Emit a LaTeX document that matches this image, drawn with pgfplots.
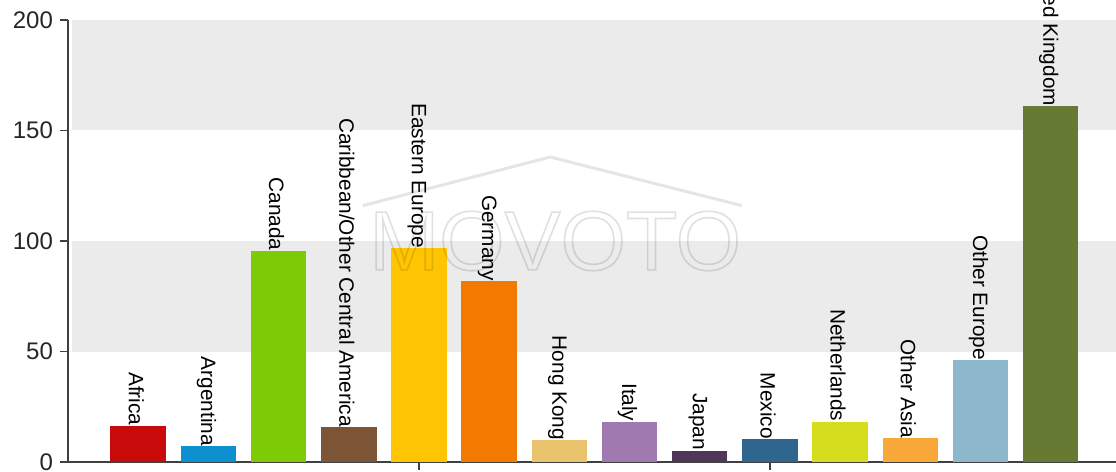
\documentclass[border=0pt]{standalone}
\usepackage{fontspec}
\setmainfont{Liberation Sans}
\usepackage{pgfplots}
\pgfplotsset{compat=1.18}
\definecolor{cAfrica}{HTML}{C80A0A}
\definecolor{cArgentina}{HTML}{0E8FD0}
\definecolor{cCanada}{HTML}{7CCB05}
\definecolor{cCarib}{HTML}{7B5535}
\definecolor{cEEurope}{HTML}{FFC502}
\definecolor{cGermany}{HTML}{F27A00}
\definecolor{cHK}{HTML}{E9C46C}
\definecolor{cItaly}{HTML}{A079B0}
\definecolor{cJapan}{HTML}{4E3759}
\definecolor{cMexico}{HTML}{2F6690}
\definecolor{cNether}{HTML}{D5DD1E}
\definecolor{cOAsia}{HTML}{F7A838}
\definecolor{cOEurope}{HTML}{8CB7CD}
\definecolor{cUK}{HTML}{667A34}
\definecolor{bandgray}{HTML}{EBEBEB}
\definecolor{axisgray}{HTML}{404040}

% one bar per country, own colour, label above it
\newcommand{\cbar}[4]{\addplot[ybar, bar width=0.79, bar shift=0pt, fill=#1, draw=none,
  nodes near coords] coordinates {(#2,#3) [#4]};}

\begin{document}
\begin{tikzpicture}
\begin{axis}[
    at={(0,0)}, anchor=south west,
    scale only axis, width=524pt, height=221pt,
    xmin=0, xmax=14.93, ymin=0, ymax=200,
    axis lines=left,
    axis line style={-, draw=axisgray, line width=0.9pt},
    ytick={0,50,...,200}, xtick={5,10}, xticklabels={},
    tick align=outside, major tick length=4pt,
    tick style={draw=axisgray, line width=0.7pt},
    yticklabel style={font=\fontsize{12}{14}\selectfont, text=black!85},
    /pgf/number format/assume math mode=true,
    clip=false,
    point meta=explicit symbolic,
    every node near coord/.style={rotate=-90, anchor=east, inner sep=0pt, yshift=-1pt,
        font=\fontsize{10.4}{12}\selectfont, text=black},
]
\addplot[draw=none, fill=bandgray] coordinates {(0.06,150) (14.93,150) (14.93,200) (0.06,200)} -- cycle;
\addplot[draw=none, fill=bandgray] coordinates {(0.06,50) (14.93,50) (14.93,100) (0.06,100)} -- cycle;

\cbar{cAfrica}{1}{16.4}{Africa}
\cbar{cArgentina}{2}{7.1}{Argentina}
\cbar{cCanada}{3}{95.6}{Canada}
\cbar{cCarib}{4}{15.7}{Caribbean/Other Central America}
\cbar{cEEurope}{5}{96.7}{Eastern Europe}
\cbar{cGermany}{6}{81.9}{Germany}
\cbar{cHK}{7}{9.8}{Hong Kong}
\cbar{cItaly}{8}{18.2}{Italy}
\cbar{cJapan}{9}{5.2}{Japan}
\cbar{cMexico}{10}{10.4}{Mexico}
\cbar{cNether}{11}{18.2}{Netherlands}
\cbar{cOAsia}{12}{10.7}{Other Asia}
\cbar{cOEurope}{13}{46.0}{Other Europe}
\cbar{cUK}{14}{160.9}{United Kingdom}

% watermark, outlined letters
\draw[black, opacity=0.1, line width=1.5pt, line join=round] (axis cs:4.2,116) -- (axis cs:6.87,138) -- (axis cs:9.6,116);
\node[opacity=0.12, font=\fontsize{42}{44}\selectfont] at (axis cs:6.94,100)
  {\special{pdf:literal 1 Tr 0.8 w 0 G}MOVOTO\special{pdf:literal 0 Tr}};
\end{axis}
\pgfresetboundingbox
\useasboundingbox (-34pt,-5pt) rectangle (524pt,231pt);
\end{tikzpicture}
\end{document}
